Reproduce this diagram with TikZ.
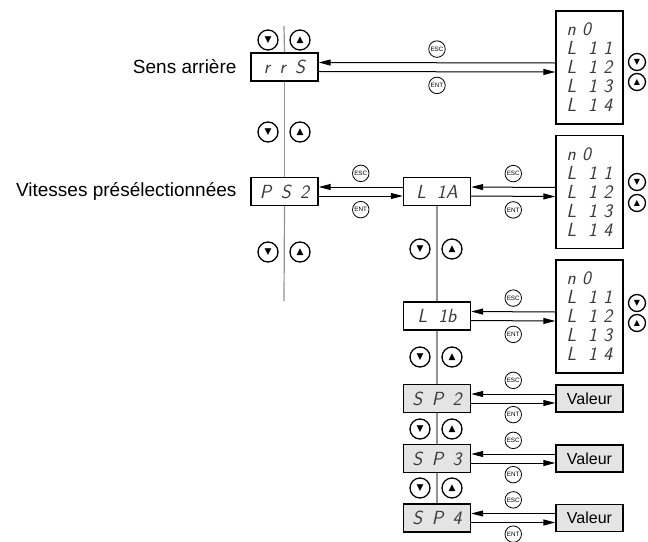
\documentclass[tikz,border=0pt]{standalone}
\usepackage{fontspec}
\setmainfont{Liberation Sans}
\newfontfamily\symfont{DejaVu Sans}
\usetikzlibrary{arrows.meta}
\definecolor{dispgray}{HTML}{E4E4E4}
\definecolor{segink}{HTML}{3A3A3A}
\newcommand{\segtxt}{\sffamily\slshape\fontsize{19}{19}\selectfont\color{segink}}

\begin{document}
\begin{tikzpicture}[
  x=1pt, y=-1pt,
  every node/.style={align=center},
  dispbox/.style={rectangle, draw, line width=1.4pt, fill=white,
                  minimum width=67pt, minimum height=28pt, inner sep=0pt, font=\segtxt},
  setbox/.style={dispbox, fill=dispgray},
  listbox/.style={rectangle, draw, line width=1.4pt, fill=white, align=left,
                  minimum width=67pt, minimum height=113pt, inner sep=0pt, font=\segtxt},
  valbox/.style={rectangle, draw, line width=1.4pt, fill=dispgray,
                 minimum width=67pt, minimum height=27pt, inner sep=0pt,
                 font=\fontsize{16}{18}\selectfont},
  navbtn/.style={circle, draw, line width=1.3pt, minimum size=20pt, inner sep=0pt,
                 font=\symfont\fontsize{9}{9}\selectfont},
  sidebtn/.style={navbtn, minimum size=17pt, font=\symfont\fontsize{8}{8}\selectfont},
  keybtn/.style={circle, draw, line width=0.8pt, fill=white, minimum size=16.5pt,
                 inner sep=0pt, font=\fontsize{6.3}{7}\selectfont},
  menulab/.style={anchor=east, font=\fontsize{19}{21}\selectfont},
  link/.style={line width=1pt},
  menuline/.style={line width=1.2pt, draw=gray!85},
  >={Triangle[length=12pt,width=6pt]}
]
\useasboundingbox (0,0) rectangle (648,541);

% Left column
\node[dispbox] (rrs) at (284.5, 67)    {r\,\,\,r\,\,\,S};
\node[dispbox] (ps2) at (284.5, 191.5) {P\,\,\,S\,\,\,2};
\node[menulab] (lab_rrs) at (240, 67)    {Sens arrière};
\node[menulab] (lab_ps2) at (240, 191.5) {Vitesses présélectionnées};
\coordinate (ltop) at (284, 26);
\coordinate (lbot) at (284, 301);

\node[navbtn] (dn1) at (268, 40)  {▼};
\node[navbtn] (up1) at (300, 40)  {▲};
\node[navbtn] (dn2) at (268, 132) {▼};
\node[navbtn] (up2) at (300, 132) {▲};
\node[navbtn] (dn3) at (268, 252) {▼};
\node[navbtn] (up3) at (300, 252) {▲};

% Middle column
\node[dispbox] (l1a) at (437, 191.5) {L\hspace{11pt}1A};
\node[dispbox] (l1b) at (437, 316)   {L\hspace{11pt}1b};
\node[setbox]  (sp2) at (437, 398.5) {S\,\,\,P\,\,\,2};
\node[setbox]  (sp3) at (437, 458.5) {S\,\,\,P\,\,\,3};
\node[setbox]  (sp4) at (437, 518)   {S\,\,\,P\,\,\,4};

\node[navbtn] (dn4) at (420, 249) {▼};
\node[navbtn] (up4) at (452, 249) {▲};
\node[navbtn] (dn5) at (420, 357) {▼};
\node[navbtn] (up5) at (452, 357) {▲};
\node[navbtn] (dn6) at (420, 429) {▼};
\node[navbtn] (up6) at (452, 429) {▲};
\node[navbtn] (dn7) at (420, 488) {▼};
\node[navbtn] (up7) at (452, 488) {▲};

% Right column
\node[listbox] (lst1) at (589.5, 67.5)
  {n\,\,0\\L\hspace{12pt}1\,\,1\\L\hspace{12pt}1\,\,2\\L\hspace{12pt}1\,\,3\\L\hspace{12pt}1\,\,4};
\node[listbox] (lst2) at (589.5, 192)
  {n\,\,0\\L\hspace{12pt}1\,\,1\\L\hspace{12pt}1\,\,2\\L\hspace{12pt}1\,\,3\\L\hspace{12pt}1\,\,4};
\node[listbox] (lst3) at (589.5, 316.5)
  {n\,\,0\\L\hspace{12pt}1\,\,1\\L\hspace{12pt}1\,\,2\\L\hspace{12pt}1\,\,3\\L\hspace{12pt}1\,\,4};
\node[valbox] (val2) at (589.5, 398.5) {Valeur};
\node[valbox] (val3) at (589.5, 458.5) {Valeur};
\node[valbox] (val4) at (589.5, 518)   {Valeur};

\node[sidebtn] (sdn1) at (637, 62)  {▼};
\node[sidebtn] (sup1) at (637, 82)  {▲};
\node[sidebtn] (sdn2) at (637, 182) {▼};
\node[sidebtn] (sup2) at (637, 203) {▲};
\node[sidebtn] (sdn3) at (637, 303) {▼};
\node[sidebtn] (sup3) at (637, 323) {▲};

% Menu lines
\draw[menuline] (ltop) -- (rrs.north);
\draw[menuline] (rrs.south) -- (ps2.north);
\draw[menuline] (ps2.south) -- (lbot);
\draw[menuline] (l1a.south) -- (l1b.north);
\draw[menuline] (l1b.south) -- (sp2.north);
\draw[menuline] (sp2.south) -- (sp3.north);
\draw[menuline] (sp3.south) -- (sp4.north);

% ESC / ENT links
\draw[link,->] ([yshift=4.5pt]lst1.west) -- node[keybtn, above=5pt] (esc1) {ESC} ([yshift=4.5pt]rrs.east);
\draw[link,->] ([yshift=-4.5pt]rrs.east) -- node[keybtn, below=5pt] (ent1) {ENT} ([yshift=-4.5pt]lst1.west);

\draw[link,->] ([yshift=4.5pt]l1a.west) -- node[keybtn, above=5pt] (esc2) {ESC} ([yshift=4.5pt]ps2.east);
\draw[link,->] ([yshift=-4.5pt]ps2.east) -- node[keybtn, below=5pt] (ent2) {ENT} ([yshift=-4.5pt]l1a.west);

\draw[link,->] ([yshift=4.5pt]lst2.west) -- node[keybtn, above=5pt] (esc3) {ESC} ([yshift=4.5pt]l1a.east);
\draw[link,->] ([yshift=-4.5pt]l1a.east) -- node[keybtn, below=5pt] (ent3) {ENT} ([yshift=-4.5pt]lst2.west);

\draw[link,->] ([yshift=4.5pt]lst3.west) -- node[keybtn, above=5pt] (esc4) {ESC} ([yshift=4.5pt]l1b.east);
\draw[link,->] ([yshift=-4.5pt]l1b.east) -- node[keybtn, below=5pt] (ent4) {ENT} ([yshift=-4.5pt]lst3.west);

\draw[link,->] ([yshift=4.5pt]val2.west) -- node[keybtn, above=5pt] (esc5) {ESC} ([yshift=4.5pt]sp2.east);
\draw[link,->] ([yshift=-4.5pt]sp2.east) -- node[keybtn, below=3pt] (ent5) {ENT} ([yshift=-4.5pt]val2.west);

\draw[link,->] ([yshift=4.5pt]val3.west) -- node[keybtn, above=5pt] (esc6) {ESC} ([yshift=4.5pt]sp3.east);
\draw[link,->] ([yshift=-4.5pt]sp3.east) -- node[keybtn, below=3pt] (ent6) {ENT} ([yshift=-4.5pt]val3.west);

\draw[link,->] ([yshift=4.5pt]val4.west) -- node[keybtn, above=5pt] (esc7) {ESC} ([yshift=4.5pt]sp4.east);
\draw[link,->] ([yshift=-4.5pt]sp4.east) -- node[keybtn, below=3pt] (ent7) {ENT} ([yshift=-4.5pt]val4.west);

\end{tikzpicture}
\end{document}
